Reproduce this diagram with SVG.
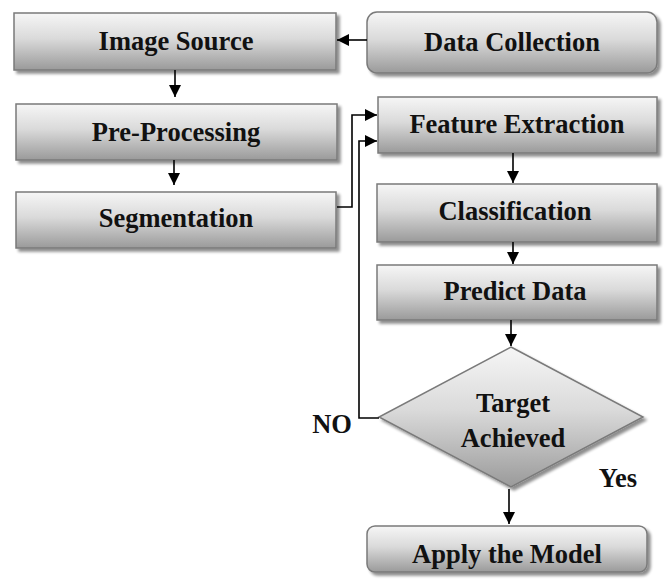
<svg xmlns="http://www.w3.org/2000/svg" width="665" height="579" viewBox="0 0 665 579">
<defs>
<linearGradient id="g" x1="0" y1="0" x2="0" y2="1">
<stop offset="0" stop-color="#f6f6f6"/>
<stop offset="0.45" stop-color="#dadada"/>
<stop offset="1" stop-color="#9a9a9a"/>
</linearGradient>
<filter id="sh" x="-5%" y="-10%" width="115%" height="130%">
<feGaussianBlur in="SourceAlpha" stdDeviation="1.5"/>
<feOffset dx="3" dy="3" result="b"/>
<feComponentTransfer><feFuncA type="linear" slope="0.45"/></feComponentTransfer>
<feMerge><feMergeNode/><feMergeNode in="SourceGraphic"/></feMerge>
</filter>
<marker id="ah" viewBox="0 0 10 10" refX="10" refY="5" markerWidth="12" markerHeight="12" markerUnits="userSpaceOnUse" orient="auto">
<path d="M0,0 L10,5 L0,10 z" fill="#000"/>
</marker>
</defs>
<style>
.box{fill:url(#g);stroke:#7a7a7a;stroke-width:1.5;filter:url(#sh)}
.t{font-family:"Liberation Serif","Times New Roman",serif;font-weight:bold;font-size:26.5px;fill:#111;text-anchor:middle}
.c{fill:none;stroke:#000;stroke-width:1.6;marker-end:url(#ah)}
</style>
<g id="image-source"><rect class="box" x="14" y="13" width="322" height="57"/><text class="t" font-family="Liberation Serif, serif" x="176" y="50">Image Source</text></g>
<g id="data-collection"><rect class="box" x="367" y="12" width="290" height="61" rx="10"/><text class="t" font-family="Liberation Serif, serif" x="512" y="51">Data Collection</text></g>
<g id="pre-processing"><rect class="box" x="16" y="104" width="321" height="56"/><text class="t" font-family="Liberation Serif, serif" x="176" y="141">Pre-Processing</text></g>
<g id="segmentation"><rect class="box" x="16" y="192" width="320" height="56"/><text class="t" font-family="Liberation Serif, serif" x="176" y="227">Segmentation</text></g>
<g id="feature-extraction"><rect class="box" x="378" y="97" width="279" height="56"/><text class="t" font-family="Liberation Serif, serif" x="517" y="133">Feature Extraction</text></g>
<g id="classification"><rect class="box" x="377" y="184" width="280" height="58"/><text class="t" font-family="Liberation Serif, serif" x="515" y="220">Classification</text></g>
<g id="predict-data"><rect class="box" x="377" y="265" width="280" height="55"/><text class="t" font-family="Liberation Serif, serif" x="515" y="300">Predict Data</text></g>
<g id="target-achieved"><polygon class="box" points="511,347 643,417 511,487 379,417"/><text class="t" font-family="Liberation Serif, serif" x="513" y="412">Target</text><text class="t" font-family="Liberation Serif, serif" x="513" y="447">Achieved</text></g>
<g id="apply-model"><rect class="box" x="367" y="526" width="280" height="46" rx="8"/><text class="t" font-family="Liberation Serif, serif" x="507" y="563">Apply the Model</text></g>
<g id="labels"><text class="t" font-family="Liberation Serif, serif" x="332" y="433">NO</text><text class="t" font-family="Liberation Serif, serif" x="618" y="487">Yes</text></g>
<g id="connectors">
<line class="c" x1="367" y1="40" x2="337" y2="40"/>
<line class="c" x1="175" y1="70" x2="175" y2="97"/>
<line class="c" x1="174" y1="160" x2="174" y2="185"/>
<polyline class="c" points="337,207 352,207 352,115 377,115"/>
<polyline class="c" points="379,418 359,418 359,141 377,141"/>
<line class="c" x1="513" y1="153" x2="513" y2="183"/>
<line class="c" x1="513" y1="242" x2="513" y2="264"/>
<line class="c" x1="511" y1="320" x2="511" y2="346"/>
<line class="c" x1="509" y1="489" x2="509" y2="524"/>
</g>
</svg>
